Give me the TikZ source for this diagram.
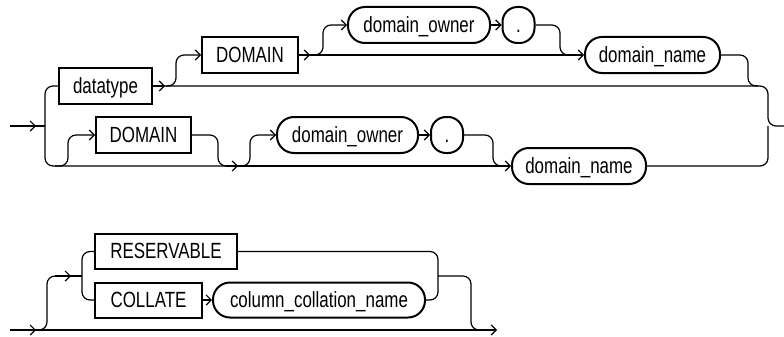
\documentclass[tikz,border=0pt]{standalone}
\usepackage{fontspec}
\setmainfont{Liberation Sans}[FakeStretch=0.77]
\usetikzlibrary{arrows.meta}
\begin{document}
\begin{tikzpicture}[x=1pt,y=-1pt,
  conn/.style={line width=1.2pt},
  rc/.style={conn, rounded corners=8pt},
  ar/.style={conn, -{Straight Barb[length=5pt,width=10pt]}},
  rar/.style={rc, -{Straight Barb[length=5pt,width=10pt]}},
  kw/.style={draw, line width=2pt, rectangle, minimum height=36pt, inner sep=0pt,
    font=\fontsize{22}{26}\selectfont, text height=15.7pt, text depth=1.5pt},
  nt/.style={kw, rounded corners=17pt},
  dotn/.style={kw, rounded corners=15pt, minimum width=32pt},
]
\useasboundingbox (0,0) rectangle (784,337);
% nodes, first diagram
\node[kw, minimum width=93pt] (datatype) at (105.5,86) {datatype};
\node[kw, minimum width=96pt] (domT) at (250,55) {DOMAIN};
\node[nt, minimum width=142pt] (ownT) at (419,25) {domain\_owner};
\node[dotn] (dotT) at (518.5,25) {.};
\node[nt, minimum width=135pt] (nameT) at (652.5,55) {domain\_name};
\node[kw, minimum width=95pt] (domB) at (143.5,135) {DOMAIN};
\node[nt, minimum width=141pt] (ownB) at (347.5,135) {domain\_owner};
\node[dotn] (dotB) at (447,135) {.};
\node[nt, minimum width=134pt] (nameB) at (579,166) {domain\_name};
% nodes, second diagram
\node[kw, minimum width=142pt, minimum height=35pt] (resv) at (166,251.5) {RESERVABLE};
\node[kw, minimum width=107pt, minimum height=35pt] (coll) at (148.5,300) {COLLATE};
\node[nt, minimum width=212pt, minimum height=35pt] (ccn) at (319,300) {column\_collation\_name};
% coordinates
\coordinate (in1) at (10,126);
\coordinate (a1) at (36,126);
\coordinate (out1) at (784,126);
\coordinate (in2) at (10,330);
\coordinate (a2) at (36,330);
\coordinate (out2) at (497,330);

% first diagram connectors
\draw[ar] (in1) -- (a1);
\draw[rc] (35,126) -- (45,126);
\draw[rc] (datatype.west) -| (45,126) |- (236,166);
\draw[ar] (226,166) -- (238,166);
\draw[ar] (236,166) -- (nameB.west);
\draw[rar] (55,166) -| (68,135) -- (domB.west);
\draw[rc] (domB.east) -| (218,166) -- (228,166);
\draw[rar] (240,166) -| (250,135) -- (ownB.west);
\draw[ar] (ownB.east) -- (dotB.west);
\draw[rc] (dotB.east) -| (493,166) -- (503,166);
\draw[rc] (nameB.east) -| (768,126);

\draw[ar] (datatype.east) -- (165,86);
\draw[rc] (163,86) -| (768,126) -- (out1);
\draw[rar] (166,86) -| (176,55) -- (domT.west);
\draw[ar] (domT.east) -- (310,55);
\draw[ar] (308,55) -- (nameT.west);
\draw[rar] (313,55) -| (323,25) -- (ownT.west);
\draw[ar] (ownT.east) -- (dotT.west);
\draw[rc] (dotT.east) -| (560,55) -- (570,55);
\draw[rc] (nameT.east) -| (748,86) -- (758,86);

% second diagram connectors
\draw[ar] (in2) -- (a2);
\draw[ar] (35,330) -- (out2);
\draw[rc] (38,330) -| (47,276) -- (60,276);
\draw[ar] (55,276) -- (71,276);
\draw[rc] (70,276) -- (82,276);
\draw[rc] (82,276) |- (resv.west);
\draw[rc] (82,276) |- (coll.west);
\draw[ar] (coll.east) -- (ccn.west);
\draw[rc] (resv.east) -| (438,276);
\draw[rc] (ccn.east) -| (438,276);
\draw[rc] (438,276) -| (471,330) -- (481,330);
\end{tikzpicture}
\end{document}
